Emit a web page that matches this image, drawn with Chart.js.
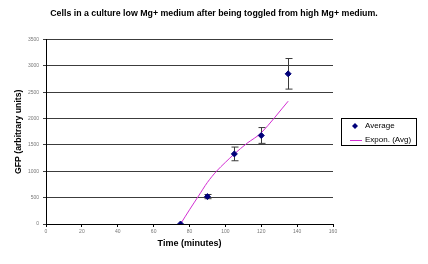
<!DOCTYPE html>
<html lang="en">

<head>
    <meta charset="UTF-8">
    <title>GFP after toggle</title>
    <style>
        body { margin: 0; background: #fff; }
        #wrap { width: 428px; height: 264px; }
    </style>
</head>

<script src="https://cdn.jsdelivr.net/npm/chart.js"></script>

<body>
    <div id="wrap">
        <canvas id="myChart" width="428" height="264"></canvas>
    </div>
</body>

<script>
    // measured averages (time in minutes)
    const timeMin = [75, 90, 105, 120, 135]
    const gfpAvg = [0, 520, 1330, 1680, 2850]
    const gfpErr = [0, 40, 130, 150, 290]

    // excel-style trendline
    const trendTime = [75, 80, 85, 90, 95, 100, 105, 112, 120, 135]
    const trendGfp = [0, 270, 530, 790, 1000, 1170, 1330, 1530, 1730, 2330]

    const xTicks = [0, 20, 40, 60, 80, 100, 120, 140, 160]
    const yTicks = [0, 500, 1000, 1500, 2000, 2500, 3000, 3500]

    const FONT = '"Liberation Sans", Arial, sans-serif'

    const errorBars = {
        id: 'errorBars',
        beforeDatasetsDraw(chart) {
            const c = chart.ctx
            const xs = chart.scales.x
            const ys = chart.scales.y
            c.save()
            c.strokeStyle = '#3a3a3a'
            c.lineWidth = 1
            timeMin.forEach((t, i) => {
                if (!gfpErr[i]) return
                const px = Math.round(xs.getPixelForValue(t)) + 0.5
                const top = ys.getPixelForValue(gfpAvg[i] + gfpErr[i])
                const bot = ys.getPixelForValue(gfpAvg[i] - gfpErr[i])
                c.beginPath()
                c.moveTo(px, top); c.lineTo(px, bot)
                c.moveTo(px - 3, top); c.lineTo(px + 4, top)
                c.moveTo(px - 3, bot); c.lineTo(px + 4, bot)
                c.stroke()
            })
            c.restore()
        }
    }

    // legend box on the right, like the excel one
    const boxLegend = {
        id: 'boxLegend',
        afterDraw(chart) {
            const c = chart.ctx
            const ds = chart.data.datasets
            c.save()
            c.fillStyle = '#fff'
            c.fillRect(341.5, 118.5, 75, 27)
            c.strokeStyle = '#000'
            c.lineWidth = 1
            c.strokeRect(341.5, 118.5, 75, 27)

            // diamond
            c.fillStyle = ds[0].backgroundColor
            c.beginPath()
            c.moveTo(355, 123); c.lineTo(358, 126); c.lineTo(355, 129); c.lineTo(352, 126)
            c.closePath()
            c.fill()
            // line
            c.strokeStyle = ds[1].borderColor
            c.beginPath()
            c.moveTo(350, 140.5); c.lineTo(362, 140.5)
            c.stroke()

            c.fillStyle = '#000'
            c.font = '8px ' + FONT
            c.textBaseline = 'middle'
            c.fillText(ds[0].label, 365, 126)
            c.fillText(ds[1].label, 365, 140)
            c.restore()
        }
    }

    const ctx = document.getElementById('myChart')

    const data = {
        datasets: [{
            label: 'Average',
            type: 'scatter',
            data: timeMin.map((t, i) => ({ x: t, y: gfpAvg[i] })),
            backgroundColor: '#00007a',
            borderColor: '#00007a',
            pointStyle: 'rectRot',
            pointRadius: 3,
            order: 1
        },
        {
            label: 'Expon. (Avg)',
            type: 'line',
            data: trendTime.map((t, i) => ({ x: t, y: trendGfp[i] })),
            borderColor: '#d22ed2',
            borderWidth: 1,
            pointRadius: 0,
            fill: false,
            tension: 0.3,
            order: 2
        }]
    }

    const config = {
        type: 'scatter',
        data: data,
        options: {
            responsive: false,
            animation: false,
            layout: { padding: { left: 0, right: 0, top: 0, bottom: 15 } },
            plugins: {
                legend: { display: false },
                tooltip: { enabled: false },
                title: {
                    display: true,
                    text: 'Cells in a culture low Mg+ medium after being toggled from high Mg+ medium.',
                    color: '#000',
                    font: { family: FONT, size: 8.8, weight: 'bold', lineHeight: 1.2 },
                    padding: { top: 8, bottom: 21 }
                }
            },
            scales: {
                x: {
                    type: 'linear',
                    min: 0,
                    max: 160,
                    afterBuildTicks: s => { s.ticks = xTicks.map(v => ({ value: v })) },
                    afterFit: s => { s.height = 25 },
                    grid: { drawOnChartArea: false, tickLength: 3, color: '#000' },
                    border: { color: '#000' },
                    ticks: {
                        color: '#777',
                        font: { family: FONT, size: 5 },
                        padding: 2,
                        maxRotation: 0
                    },
                    title: {
                        display: true,
                        text: 'Time (minutes)',
                        color: '#000',
                        font: { family: FONT, size: 9, weight: 'bold' },
                        padding: { top: 3, bottom: 0 }
                    }
                },
                y: {
                    min: 0,
                    max: 3500,
                    afterBuildTicks: s => { s.ticks = yTicks.map(v => ({ value: v })) },
                    afterFit: s => { s.width = 46 },
                    grid: { tickLength: 3, color: '#3c3c3c' },
                    border: { color: '#000' },
                    ticks: {
                        color: '#777',
                        font: { family: FONT, size: 5 },
                        padding: 4,
                        callback: v => String(v)
                    },
                    title: {
                        display: true,
                        text: 'GFP (arbitrary units)',
                        color: '#000',
                        font: { family: FONT, size: 8.7, weight: 'bold' },
                        padding: { top: 13, bottom: 0 }
                    }
                },
                // empty right-hand axis that leaves room for the legend box
                yPad: {
                    position: 'right',
                    display: true,
                    grid: { display: false },
                    border: { display: false },
                    ticks: { display: false },
                    afterFit: s => { s.width = 95 }
                }
            }
        },
        plugins: [errorBars, boxLegend]
    }
    window.gfp_chart = new Chart(ctx, config)
</script>

</html>
